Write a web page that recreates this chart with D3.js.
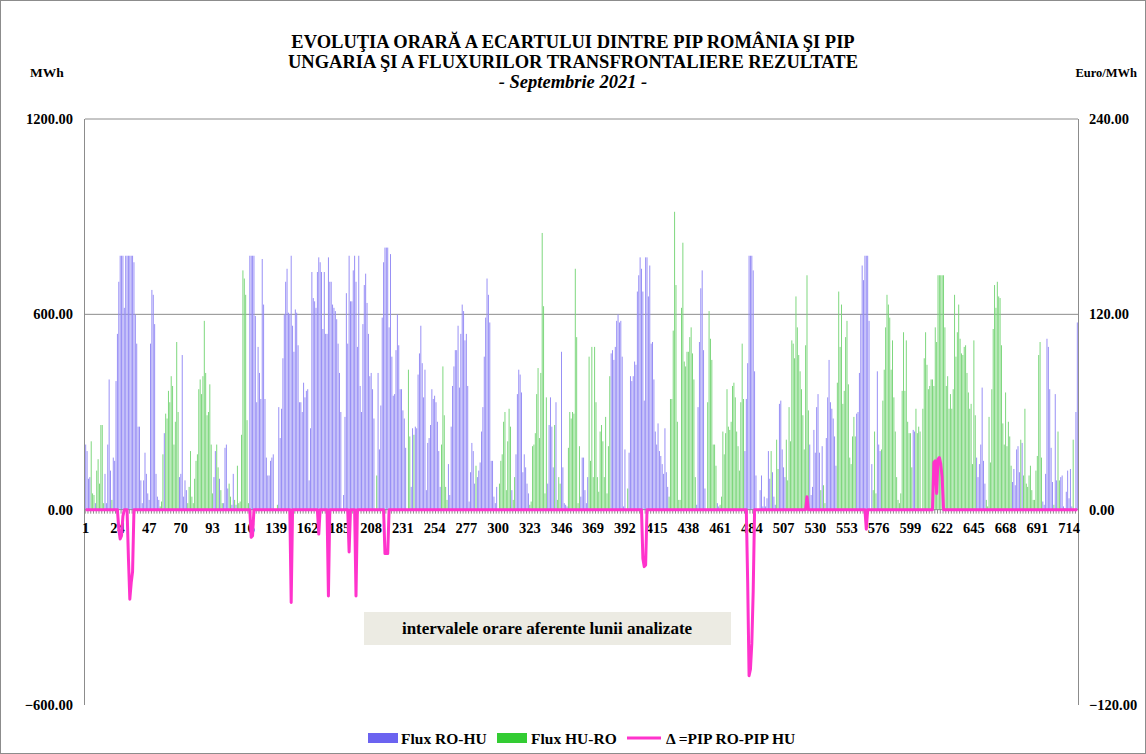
<!DOCTYPE html>
<html><head><meta charset="utf-8">
<script src="https://cdn.jsdelivr.net/npm/d3@7"></script>
<style>
body{margin:0;background:#fff}
svg text{font-family:"Liberation Serif","Times New Roman",serif;font-weight:bold;fill:#000}
</style>
</head><body>
<svg id="c" width="1146" height="754"></svg>
<script>
// Flux RO-HU (MWh), hours 1..720
const roHu=[
200,180,95,100,0,0,0,20,0,0,0,0,0,0,110,20,200,400,120,0,
160,150,395,540,700,780,780,780,620,780,780,780,780,780,780,760,600,510,255,255,
90,20,90,175,110,50,30,510,675,660,570,110,40,30,0,0,0,235,0,0,
0,0,0,0,0,0,0,0,100,110,475,40,90,60,0,0,0,0,0,0,
0,0,0,0,0,0,0,0,0,0,0,0,0,100,180,0,0,95,0,0,
20,190,200,65,0,0,15,110,0,15,0,0,0,0,0,0,0,0,0,780,
780,780,780,595,330,500,420,340,770,630,340,160,105,105,150,160,170,0,0,0,
315,220,310,465,600,700,740,605,600,780,565,485,615,605,505,330,330,300,390,345,
365,370,90,250,730,650,640,620,730,775,760,730,555,730,540,540,775,700,700,630,
620,610,585,510,420,300,0,45,285,665,510,780,640,640,735,780,700,500,780,380,
300,570,690,725,635,540,410,420,370,280,0,0,420,185,320,590,760,805,805,805,
560,785,470,350,355,490,600,505,370,370,305,280,190,0,0,0,70,250,0,255,
250,415,480,565,450,345,430,60,205,220,260,370,340,350,330,270,180,70,0,0,
0,0,0,140,45,255,380,440,490,490,565,375,540,630,610,520,540,380,25,115,
205,180,80,0,100,120,145,240,315,470,590,710,660,575,150,150,40,20,70,0,
0,0,0,0,0,0,0,0,0,60,0,0,170,355,430,415,360,115,170,130,
80,50,0,0,0,0,0,0,0,0,0,0,0,0,0,80,260,345,255,130,
0,330,0,0,0,485,130,20,15,10,0,0,0,0,0,0,0,0,0,40,
160,160,60,20,100,0,0,0,0,0,0,0,0,0,0,0,0,0,0,0,
0,480,490,460,500,580,600,575,580,470,10,185,0,0,175,410,395,410,455,445,
670,720,775,740,670,335,775,775,655,750,510,515,400,240,200,265,180,165,140,110,
250,115,70,0,0,0,0,0,0,0,0,0,0,0,0,0,0,0,0,0,
0,0,0,15,315,515,680,735,490,65,0,0,0,0,0,0,0,0,20,10,
0,0,0,0,0,0,0,0,0,0,0,0,0,0,0,0,0,0,180,340,
450,780,780,780,735,425,105,0,0,60,105,10,40,10,35,180,95,0,115,40,
15,0,0,325,335,185,130,100,0,0,0,0,0,0,0,0,0,0,0,0,
0,0,0,0,0,200,45,70,245,175,315,355,175,0,195,0,0,220,345,460,
330,310,280,225,135,0,0,0,0,0,0,0,0,0,0,0,0,0,0,295,
300,420,600,750,705,780,780,780,580,0,140,0,0,0,425,200,180,0,0,0,
0,0,0,0,0,0,0,0,0,0,0,0,0,0,0,0,0,0,0,0,
245,240,0,0,0,0,0,0,0,0,0,0,0,0,0,0,0,0,0,0,
0,0,0,0,0,0,0,0,0,0,0,0,0,0,0,0,0,0,0,0,
0,0,0,0,0,0,160,100,140,200,375,150,80,0,0,0,0,0,0,0,
0,0,0,0,0,0,0,0,0,0,0,0,85,125,75,185,195,115,0,205,
0,0,0,0,0,0,0,0,0,0,0,0,0,0,25,15,110,525,500,370,
190,85,0,355,90,0,0,100,105,10,0,55,120,35,125,10,0,0,300,575
];
// Flux HU-RO (MWh), hours 1..720
const huRo=[
0,0,0,0,210,50,45,0,120,155,80,260,260,20,0,0,0,0,0,30,
0,0,0,0,0,0,0,0,0,0,0,0,0,0,0,0,0,0,0,0,
0,0,0,0,0,0,0,0,0,0,0,0,0,0,10,25,170,0,295,280,
365,330,410,380,200,270,515,300,0,0,0,0,0,0,20,70,180,40,20,95,
150,170,370,400,355,410,580,420,290,300,385,200,50,0,0,200,130,0,60,20,
0,0,0,0,80,40,0,0,30,0,135,20,25,230,735,710,660,275,20,0,
0,0,0,0,0,0,0,0,0,0,0,0,0,0,0,0,0,0,0,15,
0,0,0,0,0,0,0,0,0,0,0,0,0,0,0,0,0,0,0,0,
0,0,0,0,0,0,0,0,0,0,0,0,0,0,0,0,0,0,0,0,
0,0,0,0,0,0,0,0,0,0,0,0,0,0,0,0,0,0,0,0,
0,0,0,0,0,0,0,0,0,0,0,105,0,0,0,0,0,0,0,0,
0,0,0,0,0,0,0,0,0,0,0,0,0,0,430,225,0,0,230,0,
0,0,0,0,0,0,0,0,0,0,0,0,0,0,0,0,0,0,200,440,
290,70,30,0,0,0,0,0,0,0,0,0,0,0,0,0,0,0,0,0,
0,0,0,135,0,0,0,0,0,0,0,0,0,0,0,0,0,0,0,0,
80,150,170,270,300,60,210,310,255,0,30,100,0,0,0,0,0,0,0,0,
0,0,15,25,195,200,235,355,435,220,420,850,625,50,345,0,0,0,0,0,
260,0,30,100,80,0,0,0,0,0,190,300,280,300,295,740,530,20,195,0,
0,0,0,0,0,470,150,500,100,500,330,100,55,240,260,210,100,285,50,195,
410,0,0,0,0,0,0,0,0,0,0,0,0,65,0,0,0,0,0,0,
0,0,0,0,0,0,0,0,0,0,0,0,0,0,0,0,0,0,0,0,
0,0,0,40,340,340,550,915,690,270,30,30,620,820,455,440,485,485,530,560,
480,400,100,0,0,0,0,0,0,0,0,330,610,525,460,200,200,135,0,0,
15,40,240,170,235,370,255,245,270,380,390,345,240,195,120,330,510,340,0,0,
0,0,0,0,0,0,0,0,0,0,0,0,0,0,0,0,0,180,0,0,
0,215,125,0,0,0,0,0,215,90,315,210,520,510,465,655,560,475,425,370,
290,185,505,720,305,0,0,0,0,0,0,0,0,60,0,75,20,0,0,0,
0,0,0,0,0,390,670,500,630,325,365,530,580,385,160,140,225,285,225,0,
0,0,0,0,0,0,0,0,0,0,0,60,240,50,0,0,0,185,335,430,
560,660,630,590,430,520,345,240,100,30,20,50,365,545,365,520,270,235,235,130,
0,0,310,235,255,240,0,310,465,545,445,370,380,400,400,380,560,515,720,720,
720,720,720,560,380,410,310,355,310,370,660,470,545,630,525,480,475,500,505,420,
360,310,325,140,520,290,0,0,0,0,0,0,0,30,10,285,145,370,555,690,
620,700,655,650,505,265,200,360,195,270,225,135,0,0,0,0,0,0,215,0,
105,310,80,70,105,135,60,30,30,120,165,475,515,160,0,0,0,0,0,0,
0,0,15,0,0,240,90,0,0,0,5,0,0,0,0,0,215,0,0,0
];
// Δ = PIP RO - PIP HU (Euro/MWh): hours where it differs from 0
const deltaHours =[25,26,27,28,32,33,34,35,121,122,150,170,177,192,197,218,219,220,405,406,407,481,482,483,484,485,524,567,616,617,618,619,620,621,622];
const deltaValues=[-12,-18,-16,-4,-30,-55,-45,-38,-17,-16,-57,-15,-53,-26,-53,-27,-27,-27,-30,-35,-34,-45,-102,-98,-82,-50,8,-12,29,30,10,31,32,28,20];
const leftTicks=[-600,0,600,1200];
const rightTicks=[-120,0,120,240];
const xTickLabels=[1,24,47,70,93,116,139,162,185,208,231,254,277,300,323,346,369,392,415,438,461,484,507,530,553,576,599,622,645,668,691,714];
const titleLines=["EVOLUŢIA ORARĂ A ECARTULUI DINTRE PIP ROMÂNIA ŞI PIP","UNGARIA ŞI A FLUXURILOR TRANSFRONTALIERE REZULTATE","- Septembrie 2021 -"];

const svg=d3.select("#c");
const W=1146,H=754;
const L=85,R=1078,T=119,B=705;
const hours=d3.range(1,roHu.length+1);
const x=d3.scaleBand().domain(hours).range([L,R]).paddingInner(0.3).paddingOuter(0.15);
const yL=d3.scaleLinear().domain([-600,1200]).range([B,T]);
const yR=d3.scaleLinear().domain([-120,240]).range([B,T]);
const deltaMap=new Map(deltaHours.map((h,i)=>[h,deltaValues[i]]));
const delta=hours.map(h=>deltaMap.has(h)?deltaMap.get(h):0);

svg.append("rect").attr("x",0.5).attr("y",0.5).attr("width",W-1).attr("height",H-1).attr("fill","#fff").attr("stroke","#8c8c8c");

svg.append("g").selectAll("line").data(leftTicks.filter(d=>d!==0&&d!==-600)).join("line")
  .attr("x1",L).attr("x2",R).attr("y1",d=>yL(d)).attr("y2",d=>yL(d)).attr("stroke","#8c8c8c").attr("stroke-width",1);
svg.append("line").attr("x1",L-0.5).attr("x2",L-0.5).attr("y1",T).attr("y2",B).attr("stroke","#8c8c8c");
svg.append("line").attr("x1",R+0.5).attr("x2",R+0.5).attr("y1",T).attr("y2",B).attr("stroke","#8c8c8c");

svg.append("g").selectAll("rect").data(hours.filter(h=>roHu[h-1]>0)).join("rect")
  .attr("x",h=>x(h)).attr("width",x.bandwidth())
  .attr("y",h=>yL(roHu[h-1])).attr("height",h=>yL(0)-yL(roHu[h-1]))
  .attr("fill","#958cf5");
svg.append("g").selectAll("rect").data(hours.filter(h=>huRo[h-1]>0)).join("rect")
  .attr("x",h=>x(h)).attr("width",x.bandwidth())
  .attr("y",h=>yL(huRo[h-1])).attr("height",h=>yL(0)-yL(huRo[h-1]))
  .attr("fill","#7ad67a");

svg.append("line").attr("x1",L).attr("x2",R).attr("y1",yL(0)).attr("y2",yL(0)).attr("stroke","#8c8c8c");
svg.append("g").selectAll("line").data(hours.filter(h=>h%2===1)).join("line")
  .attr("x1",h=>x(h)).attr("x2",h=>x(h)).attr("y1",yL(0)).attr("y2",yL(0)+4).attr("stroke","#8c8c8c");

svg.append("g").selectAll("text").data(leftTicks).join("text")
  .attr("x",73).attr("y",d=>yL(d)+5).attr("text-anchor","end").style("font-size","14.5px")
  .text(d=>d3.format(".2f")(d));
svg.append("g").selectAll("text").data(rightTicks).join("text")
  .attr("x",1089).attr("y",d=>yR(d)+5).attr("text-anchor","start").style("font-size","14.5px")
  .text(d=>d3.format(".2f")(d));

svg.append("g").selectAll("text").data(xTickLabels).join("text")
  .attr("x",h=>x(h)+x.bandwidth()/2).attr("y",yL(0)+23).attr("text-anchor","middle").style("font-size","14.5px")
  .text(d=>d);

const line=d3.line().x((d,i)=>x(hours[i])+x.bandwidth()/2).y(d=>yR(d));
svg.append("path").datum(delta).attr("d",line).attr("fill","none").attr("stroke","#ff33cc").attr("stroke-width",3).attr("stroke-linejoin","round");

svg.append("g").selectAll("text").data(titleLines).join("text")
  .attr("x",573).attr("y",(d,i)=>48+i*20).attr("text-anchor","middle")
  .style("font-size","18.5px").style("font-style",(d,i)=>i===2?"italic":"normal").text(d=>d);
svg.append("text").attr("x",30).attr("y",77).style("font-size","13.5px").text("MWh");
svg.append("text").attr("x",1137).attr("y",77).attr("text-anchor","end").style("font-size","12.5px").text("Euro/MWh");

svg.append("rect").attr("x",364).attr("y",612).attr("width",367).attr("height",33).attr("fill","#ecebe3");
svg.append("text").attr("x",547).attr("y",634).attr("text-anchor","middle").style("font-size","17px").text("intervalele orare aferente lunii analizate");

const lg=svg.append("g");
lg.append("rect").attr("x",368).attr("y",733).attr("width",30).attr("height",10).attr("fill","#6b63f0");
lg.append("text").attr("x",401).attr("y",744).style("font-size","15.5px").text("Flux RO-HU");
lg.append("rect").attr("x",497).attr("y",733).attr("width",30).attr("height",10).attr("fill","#33cc33");
lg.append("text").attr("x",531).attr("y",744).style("font-size","15.5px").text("Flux HU-RO");
lg.append("line").attr("x1",627).attr("x2",661).attr("y1",738).attr("y2",738).attr("stroke","#ff33cc").attr("stroke-width",3);
lg.append("text").attr("x",666).attr("y",744).style("font-size","15.5px").text("Δ =PIP RO-PIP HU");
</script>
</body></html>
